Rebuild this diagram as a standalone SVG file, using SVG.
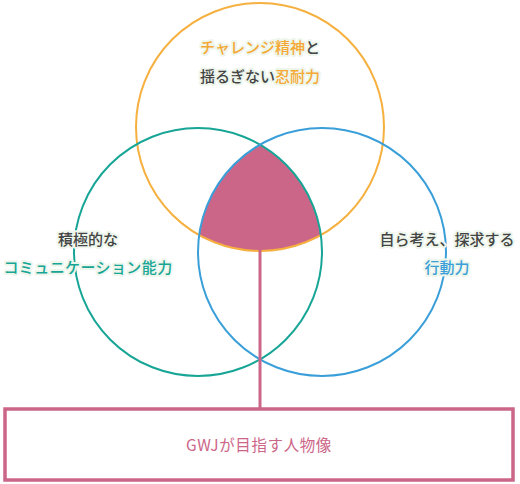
<svg xmlns="http://www.w3.org/2000/svg" width="520" height="484" viewBox="0 0 520 484">
<style>
text{font-family:"Noto Sans CJK JP","Noto Sans",sans-serif;font-size:15px;font-weight:500;text-anchor:middle;paint-order:stroke;stroke:#eef6ec;stroke-width:4px;stroke-linejoin:round}
.g{fill:#444444}
.o{fill:#f5a833}
.t{fill:#17a596}
.b{fill:#3a9fd8}
.p{fill:#cc6688;stroke:none;font-size:15.5px;font-weight:400;letter-spacing:0.6px}
.c{fill:none;stroke-width:2}
</style>
<rect width="520" height="484" fill="#ffffff"/>
<g id="core">
<path d="M260 144.6 A124 124 0 0 0 199.16 235.05 A124 124 0 0 0 320.84 235.05 A124 124 0 0 0 260 144.6 Z" fill="#cc6688"/>
</g>
<g id="challenge">
<circle class="c" cx="260" cy="127" r="124" stroke="#f6b040"/>
<text x="260" y="53"><tspan class="o">チャレンジ精神</tspan><tspan class="g">と</tspan></text>
<text x="260" y="82"><tspan class="g">揺るぎない</tspan><tspan class="o">忍耐力</tspan></text>
</g>
<g id="communication">
<circle class="c" cx="198" cy="252" r="124" stroke="#17a596"/>
<text class="g" x="88" y="245">積極的な</text>
<text class="t" x="88" y="273" style="letter-spacing:0.4px">コミュニケーション能力</text>
</g>
<g id="action">
<circle class="c" cx="322" cy="252" r="124" stroke="#3a9fd8"/>
<text class="g" x="447" y="245">自ら考え、探求する</text>
<text class="b" x="447" y="273">行動力</text>
</g>
<g id="connectors">
<line x1="260" y1="236" x2="260" y2="409" stroke="#cc6688" stroke-width="3"/>
</g>
<g id="goal">
<rect x="5" y="409" width="508" height="71" fill="#ffffff" stroke="#cc6688" stroke-width="3.5"/>
<text class="p" x="259" y="451">GWJが目指す人物像</text>
</g>
</svg>
